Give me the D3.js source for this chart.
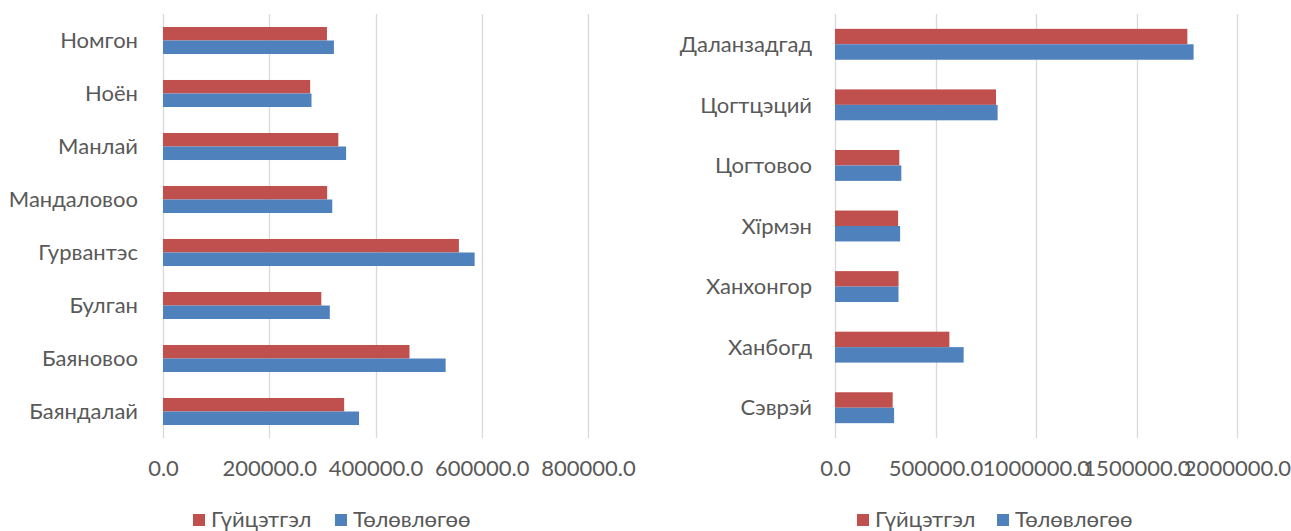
<!DOCTYPE html>
<html>
<head>
<meta charset="utf-8">
<script src="https://cdn.jsdelivr.net/npm/d3@7"></script>
<style>
  body { margin: 0; background: #fff; }
  text { font-family: Lato, "Open Sans", sans-serif; fill: #595959; }
</style>
</head>
<body>
<div id="vis_container"></div>
<script>
// series names and colours
var seriesNames = ["Гүйцэтгэл", "Төлөвлөгөө"];
var seriesColors = ["#C0504D", "#4F81BD"];

// left chart
var leftCats = ["Номгон", "Ноён", "Манлай", "Мандаловоо", "Гурвантэс", "Булган", "Баяновоо", "Баяндалай"];
var leftActual = [308600, 277000, 330000, 309000, 557000, 298000, 464000, 341000];
var leftPlan   = [321700, 279500, 344700, 318600, 586600, 314000, 532000, 369000];
var leftTicks  = [0, 200000, 400000, 600000, 800000];

// right chart
var rightCats = ["Даланзадгад", "Цогтцэций", "Цогтовоо", "Хїрмэн", "Ханхонгор", "Ханбогд", "Сэврэй"];
var rightActual = [1753000, 801000, 320000, 314000, 316000, 569000, 287000];
var rightPlan   = [1784000, 809000, 330000, 324000, 316000, 640000, 294000];
var rightTicks  = [0, 500000, 1000000, 1500000, 2000000];

var width = 1291, height = 531;
var fontSize = 22;

var svg = d3.select("#vis_container").append("svg")
	.attr("width", width)
	.attr("height", height);

function drawChart(cfg) {
	var g = svg.append("g");

	var x = d3.scaleLinear()
		.domain([0, cfg.ticks[cfg.ticks.length - 1]])
		.range([cfg.x0, cfg.x1]);

	var y = d3.scaleBand()
		.domain(cfg.cats)
		.range([14, 438]);

	// inner band for the two series, bars take ~51% of the category
	var sub = d3.scaleBand()
		.domain([0, 1])
		.range([0, y.bandwidth()])
		.paddingOuter(0.96);

	// gridlines
	g.selectAll(".grid")
		.data(cfg.ticks)
		.enter()
		.append("line")
			.attr("x1", function(d) { return Math.round(x(d)) + 0.5; })
			.attr("x2", function(d) { return Math.round(x(d)) + 0.5; })
			.attr("y1", 14)
			.attr("y2", 438)
			.attr("stroke", "#D9D9D9")
			.attr("stroke-width", 1.3);

	// tick labels
	var axis = d3.axisBottom(x)
		.tickValues(cfg.ticks)
		.tickFormat(d3.format(".1f"))
		.tickSize(0)
		.tickPadding(0);
	var ax = g.append("g")
		.attr("transform", "translate(0,460)")
		.call(axis);
	ax.select(".domain").remove();
	ax.selectAll("text")
		.attr("font-size", fontSize)
		.attr("font-family", null)
		.style("fill", "#595959");

	// bars
	var rows = cfg.cats.map(function(c, i) {
		return {cat: c, vals: [cfg.actual[i], cfg.plan[i]]};
	});

	var grp = g.selectAll(".cat")
		.data(rows)
		.enter()
		.append("g")
			.attr("transform", function(d) { return "translate(0," + y(d.cat) + ")"; });

	grp.selectAll("rect")
		.data(function(d) { return d.vals; })
		.enter()
		.append("rect")
			.attr("x", x(0))
			.attr("y", function(d, i) { return sub(i); })
			.attr("width", function(d) { return x(d) - x(0); })
			.attr("height", sub.bandwidth())
			.attr("fill", function(d, i) { return seriesColors[i]; });

	// category labels
	grp.append("text")
		.attr("x", x(0) - cfg.labelGap)
		.attr("y", y.bandwidth() / 2)
		.attr("dy", "0.35em")
		.attr("text-anchor", "end")
		.attr("font-size", fontSize)
		.text(function(d) { return d.cat; });

	// legend
	var leg = g.append("g")
		.attr("transform", "translate(" + cfg.legendX + ",0)");
	var item = leg.selectAll(".leg")
		.data(seriesNames)
		.enter()
		.append("g")
			.attr("transform", function(d, i) { return "translate(" + (i * cfg.legendStep) + ",0)"; });
	item.append("rect")
		.attr("x", 0)
		.attr("y", 514)
		.attr("width", 12)
		.attr("height", 12)
		.attr("fill", function(d, i) { return seriesColors[i]; });
	item.append("text")
		.attr("x", 18)
		.attr("y", 527)
		.attr("font-size", fontSize)
		.text(function(d) { return d; });
}

drawChart({cats: leftCats, actual: leftActual, plan: leftPlan, ticks: leftTicks,
	x0: 163, x1: 588, labelGap: 25, legendX: 193, legendStep: 142});
drawChart({cats: rightCats, actual: rightActual, plan: rightPlan, ticks: rightTicks,
	x0: 835, x1: 1237, labelGap: 23, legendX: 857, legendStep: 140});
</script>
</body>
</html>
